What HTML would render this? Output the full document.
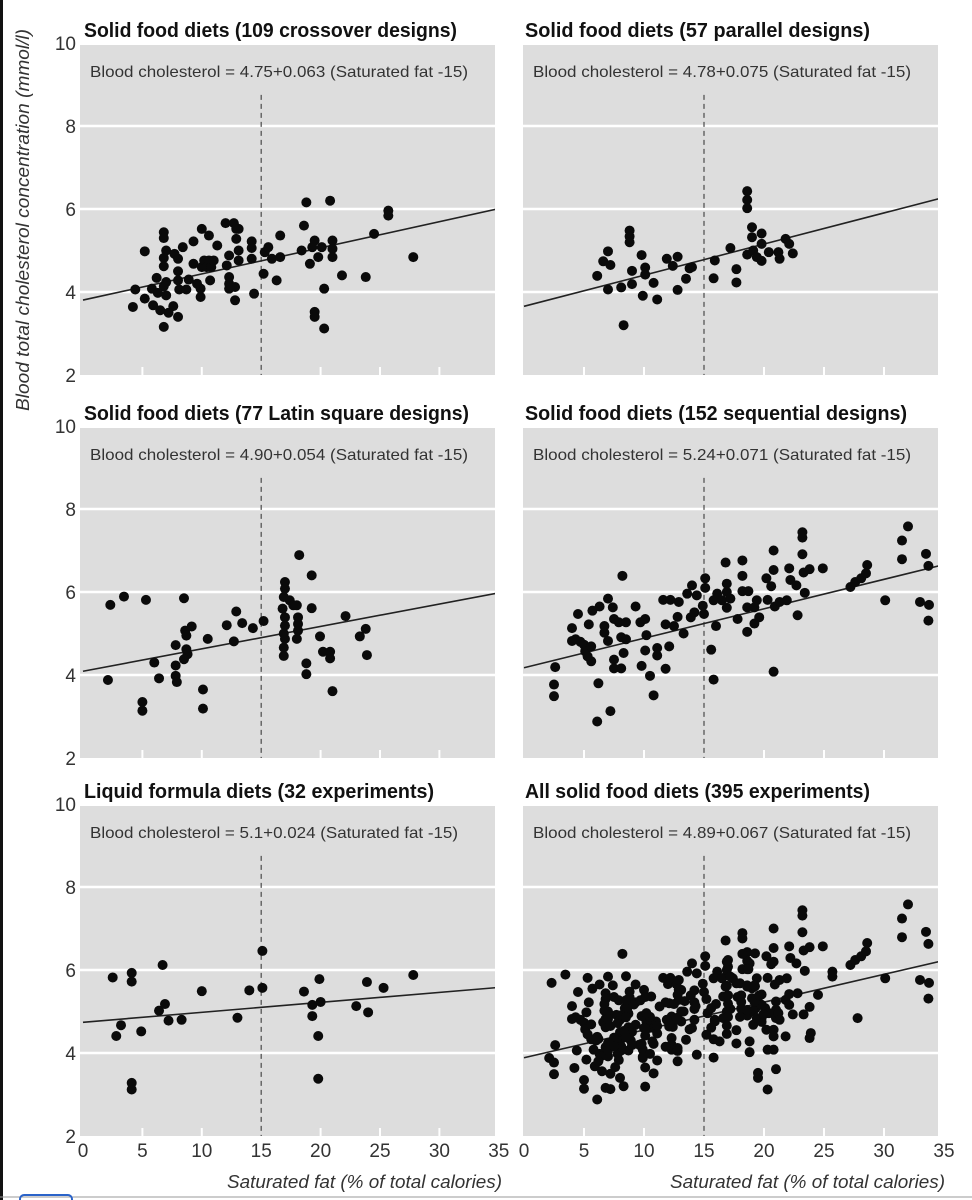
<!DOCTYPE html>
<html><head><meta charset="utf-8"><style>
html,body{margin:0;padding:0;background:#fff;}
svg{display:block;font-family:"Liberation Sans",sans-serif;}
</style></head><body>
<svg id="chart" width="972" height="1200" viewBox="0 0 972 1200" xmlns="http://www.w3.org/2000/svg">
<rect x="0" y="0" width="3" height="1200" fill="#111"/>
<line x1="0" y1="1197" x2="972" y2="1197" stroke="#999" stroke-width="1"/>
<rect x="20" y="1195" width="52" height="12" rx="4" fill="none" stroke="#2a63c9" stroke-width="2"/>
<text transform="translate(29,220) rotate(-90)" text-anchor="middle" font-size="18" font-style="italic" fill="#333" textLength="382" lengthAdjust="spacingAndGlyphs">Blood total cholesterol concentration (mmol/l)</text>
<g id="panels"></g>
</svg>
<script>
// ---- data (saturated fat %, cholesterol mmol/l) ----
const crossX=[4.4,4.2,5.2,5.2,5.8,5.9,6.2,6.3,6.5,6.8,6.8,6.8,6.8,6.8,6.8,7.0,7.0,7.0,7.2,7.6,7.7,8.0,8.0,8.0,8.0,8.1,8.4,8.7,8.9,9.3,9.3,9.6,9.9,9.9,10.0,10.0,10.2,10.4,10.6,10.6,10.7,10.8,11.0,11.3,12.0,12.1,12.3,12.3,12.3,12.3,12.7,12.8,12.8,12.9,12.9,13.1,13.1,13.1,14.2,14.2,14.2,14.4,15.2,15.3,15.6,15.9,16.3,16.6,16.6,18.4,18.6,18.8,19.1,19.3,19.5,19.5,19.5,19.8,20.1,20.3,20.3,20.8,21.0,21.0,21.0,21.8,23.8,24.5,25.7,25.7,27.8];
const crossY=[4.06,3.64,4.98,3.84,4.08,3.68,4.34,3.98,3.56,3.16,5.44,5.3,4.82,4.62,4.14,5.0,4.24,3.92,3.5,3.66,4.92,3.4,4.8,4.5,4.28,4.06,5.08,4.06,4.3,5.22,4.68,4.2,3.88,4.08,5.52,4.6,4.76,4.6,5.36,4.76,4.28,4.6,4.76,5.12,5.66,4.64,4.88,4.36,4.2,4.08,5.66,3.8,4.12,5.52,5.28,5.0,4.76,5.52,5.22,5.06,4.8,3.96,4.44,4.96,5.08,4.8,4.28,4.84,5.36,5.0,5.6,6.16,4.68,5.08,5.24,3.52,3.4,4.84,5.08,4.08,3.12,6.2,5.24,5.04,4.84,4.4,4.36,5.4,5.96,5.84,4.84];
const paraX=[6.1,6.6,7.0,7.2,7.0,8.1,8.3,8.8,8.8,8.8,9.0,9.0,9.8,9.9,10.1,10.1,10.8,11.1,11.9,12.4,12.8,12.8,13.5,13.8,14.0,15.9,15.8,17.2,17.7,17.7,18.6,18.6,18.6,19.0,19.0,18.6,19.1,19.4,19.8,19.8,19.8,20.4,21.2,21.3,21.8,22.1,22.4];
const paraY=[4.39,4.74,4.98,4.65,4.06,4.11,3.2,5.48,5.34,5.2,4.51,4.19,4.89,3.91,4.59,4.42,4.22,3.82,4.8,4.63,4.85,4.05,4.32,4.57,4.6,4.76,4.33,5.06,4.55,4.23,6.43,6.22,6.02,5.56,5.32,4.9,5.0,4.84,5.41,5.16,4.75,4.96,4.96,4.8,5.28,5.16,4.93];
const latinX=[2.3,3.45,5.3,2.1,5.0,5.0,6.0,6.4,7.8,7.8,7.8,7.9,8.5,8.6,8.7,9.15,8.7,8.8,8.5,10.1,10.1,10.5,12.1,12.9,12.7,13.4,14.3,15.2,18.2,19.25,19.25,17.0,17.0,16.9,16.8,17.0,17.0,16.9,17.0,16.9,16.9,17.4,17.7,18.0,18.1,18.1,18.1,18.0,19.95,20.2,20.8,20.8,18.8,18.8,21.0,22.1,23.3,23.8,23.9];
const latinY=[5.69,5.89,5.81,3.88,3.35,3.14,4.3,3.92,4.72,4.23,3.98,3.83,5.85,5.07,4.95,5.17,4.62,4.5,4.38,3.65,3.19,4.87,5.2,5.53,4.81,5.25,5.13,5.3,6.89,6.4,5.61,6.24,6.08,5.88,5.6,5.39,5.19,5.0,4.87,4.66,4.46,5.8,5.68,5.68,5.39,5.23,5.07,4.87,4.93,4.56,4.56,4.4,4.28,4.02,3.61,5.42,4.93,5.11,4.48];
const seqX=[2.6,2.5,2.5,4.0,4.0,4.5,4.3,4.7,5.0,5.1,5.3,5.6,5.6,5.4,5.7,6.3,6.2,6.1,7.2,6.7,6.7,7.0,7.0,7.4,7.5,7.9,8.5,7.5,8.1,7.5,8.1,8.5,8.3,8.2,9.3,9.7,10.1,10.2,10.1,9.8,10.5,10.8,11.1,11.1,11.8,12.1,11.8,11.6,12.2,12.9,12.5,12.8,13.3,13.6,14.0,13.9,14.4,14.2,14.9,15.1,15.1,15.0,15.6,15.8,16.0,15.8,16.1,16.5,16.8,16.9,16.9,16.9,17.2,17.8,18.2,18.2,18.2,18.7,18.6,18.6,19.2,19.6,19.4,19.2,20.3,20.2,20.6,20.8,20.8,20.9,21.3,21.9,20.8,22.1,22.2,22.7,22.8,23.4,23.2,23.2,23.2,23.3,23.8,24.9,27.2,27.6,28.1,28.5,28.6,30.1,31.5,31.5,32.0,33.5,33.7,33.0,33.75,33.7];
const seqY=[4.19,3.77,3.49,5.13,4.82,5.47,4.86,4.8,4.73,4.57,4.45,4.33,4.69,5.22,5.55,5.65,3.8,2.88,3.13,5.18,5.02,4.82,5.84,5.63,5.35,5.27,5.27,4.37,4.16,4.16,4.91,4.86,4.53,6.39,5.65,5.27,5.35,4.96,4.59,4.22,3.98,3.51,4.65,4.47,4.15,4.69,5.22,5.81,5.81,5.76,5.18,5.4,5.0,5.96,6.16,5.39,5.92,5.51,5.67,6.33,6.1,5.47,4.61,3.89,5.18,5.8,5.96,5.8,6.71,6.2,6.0,5.62,5.84,5.35,6.76,6.39,6.02,6.02,5.63,5.04,5.24,5.39,5.8,5.63,5.81,6.33,6.14,6.53,7.0,5.65,5.76,5.8,4.08,6.57,6.29,6.16,5.44,5.98,7.44,7.31,6.91,6.47,6.55,6.57,6.12,6.24,6.33,6.45,6.65,5.8,7.24,6.79,7.58,6.92,6.63,5.76,5.69,5.31];
const liqX=[2.5,4.1,4.1,6.7,3.2,2.8,4.9,6.4,6.9,7.2,8.3,10.0,13.0,14.0,15.1,15.1,4.1,4.1,18.6,19.3,20.0,19.3,19.9,19.8,19.8,23.0,23.9,24.0,25.3,27.8];
const liqY=[5.82,5.93,5.72,6.12,4.67,4.41,4.52,5.02,5.18,4.78,4.8,5.49,4.85,5.51,6.46,5.57,3.28,3.12,5.48,5.16,5.23,4.89,5.78,4.41,3.38,5.13,5.71,4.98,5.57,5.88];
const allX=[].concat(crossX,paraX,latinX,seqX);
const allY=[].concat(crossY,paraY,latinY,seqY);
const intercepts=[4.75,4.78,4.90,5.24,5.1,4.89];
const slopes=[0.063,0.075,0.054,0.071,0.024,0.067];
const titles=["Solid food diets (109 crossover designs)","Solid food diets (57 parallel designs)","Solid food diets (77 Latin square designs)","Solid food diets (152 sequential designs)","Liquid formula diets (32 experiments)","All solid food diets (395 experiments)"];
const equations=["Blood cholesterol = 4.75+0.063 (Saturated fat -15)","Blood cholesterol = 4.78+0.075 (Saturated fat -15)","Blood cholesterol = 4.90+0.054 (Saturated fat -15)","Blood cholesterol = 5.24+0.071 (Saturated fat -15)","Blood cholesterol = 5.1+0.024 (Saturated fat -15)","Blood cholesterol = 4.89+0.067 (Saturated fat -15)"];
const seriesX=[crossX,paraX,latinX,seqX,liqX,allX];
const seriesY=[crossY,paraY,latinY,seqY,liqY,allY];
const yTicks=[2,4,6,8,10];
const xTicks=[0,5,10,15,20,25,30,35];
const xTitle="Saturated fat (% of total calories)";

// ---- layout ----
const NS="http://www.w3.org/2000/svg";
const root=document.getElementById('panels');
const rowBottoms=[375,758,1136];
const unitY=41.5;
const cols=[{x0:83,ux:11.88,left:80,right:495,tx:84,ex:90},{x0:524,ux:12,left:523,right:938,tx:525,ex:533}];
const titleLens=[373,345,385,382,350,345];
const eqLens=[378,378,378,378,368,378];
function mk(tag,attrs,parent){const e=document.createElementNS(NS,tag);for(const k in attrs)e.setAttribute(k,attrs[k]);(parent||root).appendChild(e);return e;}

for(let p=0;p<6;p++){
  const row=Math.floor(p/2), col=p%2, c=cols[col], yb=rowBottoms[row];
  const sx=v=>c.x0+c.ux*v;
  const sy=v=>yb-(v-2)*unitY;
  const g=mk('g',{});
  
  
  const clipId='clip'+p;
  const cp=mk('clipPath',{id:clipId},g);
  mk('rect',{x:c.left,y:sy(10)+2,width:c.right-c.left,height:yb-sy(10)-2},cp);
  const bg=mk('rect',{x:c.left,y:sy(10)+2,width:c.right-c.left,height:yb-sy(10)-2,fill:'#dddddd'},g);
  
  
  [4,6,8].forEach(v=>{
    const l=mk('line',{x1:c.left,x2:c.right,y1:sy(v),y2:sy(v),stroke:'#fff','stroke-width':2.5},g);
    
    
  });
  xTicks.forEach(v=>{
    if(v===0||v===35||v===15)return;
    const t=mk('line',{x1:sx(v),x2:sx(v),y1:yb-8,y2:yb,stroke:'#fff','stroke-width':2},g);
    
    
  });
  const ref=mk('line',{x1:sx(15),x2:sx(15),y1:sy(8.75),y2:yb,stroke:'#555','stroke-width':1.3,'stroke-dasharray':'5,4'},g);
  
  
  const a=intercepts[p], b=slopes[p];
  const reg=mk('line',{x1:sx(0),y1:sy(a+b*(0-15)),x2:sx(35),y2:sy(a+b*(35-15)),stroke:'#222','stroke-width':1.6,'clip-path':'url(#'+clipId+')'},g);
  
  
  const xs=seriesX[p], ys=seriesY[p];
  for(let i=0;i<xs.length;i++){
    const d=mk('circle',{cx:sx(xs[i]),cy:sy(ys[i]),r:5,fill:'#0a0a0a'},g);
    
    
  }
  const t=mk('text',{x:c.tx,y:sy(10)-6,'font-size':20,'font-weight':'bold',fill:'#111',textLength:titleLens[p],lengthAdjust:'spacingAndGlyphs'},g);
  t.textContent=titles[p];
  
  
  const e=mk('text',{x:c.ex,y:sy(10)+34,'font-size':16,fill:'#333',textLength:eqLens[p],lengthAdjust:'spacingAndGlyphs'},g);
  e.textContent=equations[p];
  
  
  if(col===0){
    yTicks.forEach(v=>{
      const yl=mk('text',{x:76,y:sy(v)+7,'font-size':19,'text-anchor':'end',fill:'#333'},g);
      yl.textContent=v;
      
      
    });
  }
  if(row===2){
    xTicks.forEach(v=>{
      const xl=mk('text',{x:sx(v),y:yb+21,'font-size':19,'text-anchor':'middle',fill:'#333'},g);
      xl.textContent=v;
      
      
    });
    const xt=mk('text',{x:col===0?502:945,y:1188,'font-size':18,'font-style':'italic','text-anchor':'end',fill:'#333',textLength:275,lengthAdjust:'spacingAndGlyphs'},g);
    xt.textContent=xTitle;
    
    
  }
}
</script>
</body></html>
